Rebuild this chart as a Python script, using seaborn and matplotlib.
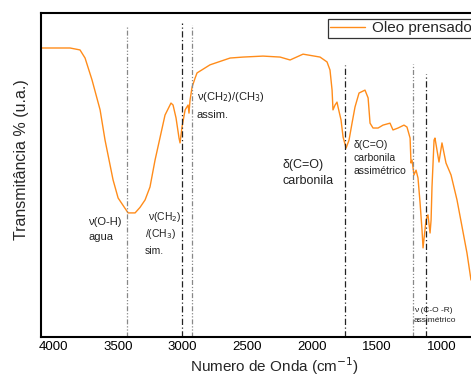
import numpy as np
import pandas as pd
import matplotlib
matplotlib.use("Agg")
import matplotlib.pyplot as plt
import seaborn as sns
from matplotlib.lines import Line2D

sns.set_theme(style="white")
plt.rcParams['font.family'] = ['Liberation Sans', 'DejaVu Sans']

wavenumber = [4093, 3869, 3792, 3753, 3699, 3637, 3599, 3537, 3498, 3421, 3367, 3329,
              3290, 3252, 3213, 3136, 3090, 3074, 3051, 3028, 3020, 3005, 2981, 2958,
              2951, 2943, 2927, 2904, 2889, 2789, 2634, 2534, 2380, 2248, 2171, 2071,
              1940, 1886, 1863, 1847, 1840, 1824, 1809, 1801, 1778, 1762, 1739, 1716,
              1693, 1670, 1639, 1593, 1569, 1554, 1531, 1492, 1454, 1400, 1377, 1338,
              1292, 1269, 1245, 1238, 1230, 1215, 1199, 1184, 1168, 1153, 1145, 1122,
              1107, 1091, 1083, 1076, 1060, 1053, 1022, 999, 968, 929, 883, 844,
              806, 775]
transmittance = [89.2, 89.2, 88.6, 86.1, 79.3, 70.1, 60.8, 48.5, 42.9, 38.3, 38.3, 40.0,
                 42.3, 46.3, 54.6, 68.5, 72.2, 71.6, 67.6, 61.4, 59.9, 64.8, 70.1, 71.6,
                 69.1, 73.1, 77.2, 79.9, 81.5, 84.0, 86.1, 86.4, 86.7, 86.4, 85.5, 87.3,
                 86.4, 84.9, 82.4, 76.2, 70.1, 71.6, 72.5, 71.0, 67.0, 61.7, 58.3, 60.8,
                 66.0, 71.0, 75.3, 76.2, 73.8, 66.0, 64.5, 64.5, 65.4, 66.0, 63.9, 64.5,
                 65.4, 64.8, 61.4, 53.7, 54.6, 50.0, 51.5, 49.1, 41.4, 33.0, 27.5, 36.1,
                 37.7, 32.1, 36.1, 46.3, 60.8, 61.4, 54.0, 59.9, 53.7, 50.0, 42.3, 34.0,
                 25.9, 17.6]
series_name = "Oleo prensado"

# reference bands (wavenumber, top of line in transmittance units, style)
band_positions = [3430, 3008, 2930, 1747, 1224, 1123]
band_tops = [96.0, 96.9, 96.3, 84.0, 84.3, 81.2]
band_dark = [False, True, False, True, False, True]

x_ticks = [4000, 3500, 3000, 2500, 2000, 1500, 1000]

df = pd.DataFrame({"wn": wavenumber, "T": transmittance, "amostra": series_name})

fig = plt.figure(figsize=(4.71, 3.76), dpi=100)
ax = fig.add_axes([41/471, 39/376, 430/471, 324/376])

sns.lineplot(data=df, x="wn", y="T", hue="amostra", palette=["#FF8C1A"],
             linewidth=1.0, ax=ax, legend=False, sort=False)

for xb, top, dark in zip(band_positions, band_tops, band_dark):
    if dark:
        ax.plot([xb, xb], [0, top], color="#222222", lw=0.9, ls=(0, (5, 2, 1, 2)))
    else:
        ax.plot([xb, xb], [0, top], color="#888888", lw=0.9, ls=(0, (4, 1.5, 1, 1.5, 1, 1.5)))

ax.set_xlim(4093, 775)
ax.set_ylim(0, 100)
ax.set_xticks(x_ticks)
ax.set_xticklabels([str(t) for t in x_ticks], fontsize=9.5)
ax.set_yticks([])
ax.tick_params(axis='x', length=0, pad=3, colors='black')
for s in ['left', 'bottom', 'top']:
    ax.spines[s].set_color('black')
    ax.spines[s].set_linewidth(1.5)
ax.spines['right'].set_visible(False)

ax.set_xlabel("Numero de Onda (cm$^{-1}$)", fontsize=11)
ax.xaxis.set_label_coords((275 - 41) / 430, (337 - 366) / 324)
ax.xaxis.label.set_va('center')
ax.set_ylabel("Transmitância % (u.a.)", fontsize=11.5)
ax.yaxis.set_label_coords((22 - 41) / 430, (337 - 160) / 324)
ax.yaxis.label.set_va('center')

c = "#222222"
def txt(x, y, s, fs):
    ax.text(x, y, s, fontsize=fs, color=c, va='center', ha='left')

# annotations (positions in data coords)
txt(3730, 35.5, "ν(O-H)", 8)
txt(3730, 31.0, "agua", 8)
txt(3270, 37.0, "ν(CH$_2$)", 7.5)
txt(3290, 31.8, "/(CH$_3$)", 7.5)
txt(3290, 26.5, "sim.", 7.5)
txt(2890, 74.0, "ν(CH$_2$)/(CH$_3$)", 8)
txt(2890, 68.5, "assim.", 8)
txt(2230, 53.0, "δ(C=O)", 9)
txt(2230, 48.3, "carbonila", 9)
txt(1680, 59.3, "δ(C=O)", 7.5)
txt(1680, 55.3, "carbonila", 7.5)
txt(1680, 51.3, "assimétrico", 7.5)
txt(1215, 8.3, "ν (C-O -R)", 6)
txt(1215, 5.0, "assimétrico", 6)

handle = Line2D([], [], color="#FF8C1A", lw=1.0)
leg = fig.legend([handle], [series_name], loc='upper left',
                 bbox_to_anchor=(328/471, 1 - 19/376), borderaxespad=0,
                 fontsize=11, frameon=True, fancybox=False, shadow=False,
                 handlelength=2.3, borderpad=0.15, handletextpad=0.4)
leg.get_frame().set_edgecolor('black')
leg.get_frame().set_linewidth(0.9)

fig.savefig("out.png", dpi=100)
